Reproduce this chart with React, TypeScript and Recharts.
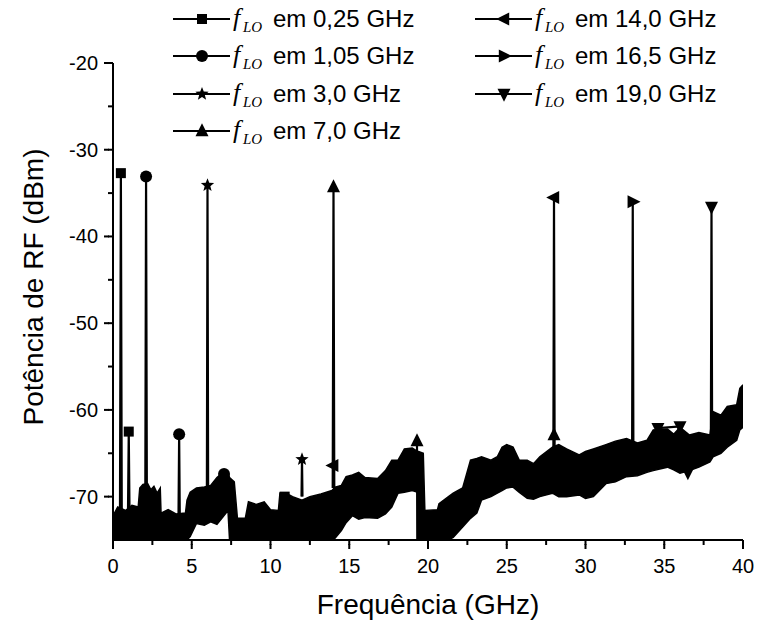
import React from 'react';
import { ComposedChart, Area, Line, XAxis, YAxis, Legend, Label } from 'recharts';

// ---- noise-floor envelope ----
const bandFreq = [0, 0.3, 0.8, 1.2, 1.6, 1.7, 1.9, 2.2, 2.4, 2.6, 2.8, 3.0, 3.05, 3.5, 4.0, 4.6, 4.7, 4.9, 5.3, 5.8, 6.2, 6.6, 7.0, 7.3, 7.4, 7.7, 7.9, 8.4, 8.6, 9.1, 9.6, 10.0, 10.5, 10.6, 11.2, 11.4, 12.0, 12.5, 13.2, 13.9, 14.1, 14.5, 14.8, 15.2, 15.6, 16.0, 16.8, 17.3, 17.7, 18.1, 18.5, 19.0, 19.35, 19.4, 19.7, 19.8, 20.6, 20.7, 21.3, 21.6, 22.2, 22.7, 23.1, 23.4, 24.0, 24.4, 24.7, 25.0, 25.4, 25.8, 26.3, 26.7, 27.1, 27.9, 28.3, 28.8, 29.6, 30.0, 30.5, 31.3, 31.9, 32.6, 33.3, 33.9, 34.3, 35.2, 35.6, 36.0, 36.6, 37.2, 37.9, 38.1, 38.6, 39.0, 39.6, 39.8, 40.0];
const bandHigh = [-72.2, -71.2, -71.6, -71.0, -71.2, -69.0, -68.6, -68.5, -69.2, -68.8, -69.6, -69.0, -71.9, -71.5, -72.0, -71.9, -70.4, -69.5, -69.0, -68.9, -68.7, -67.8, -67.2, -67.3, -67.8, -68.3, -72.5, -72.5, -70.6, -70.9, -70.6, -71.5, -71.6, -69.6, -69.8, -70.0, -70.4, -70.0, -69.7, -69.3, -68.9, -68.7, -67.7, -67.5, -67.2, -67.8, -67.9, -67.0, -65.8, -65.8, -64.5, -64.4, -64.8, -64.8, -65.0, -71.6, -71.5, -70.8, -70.0, -69.6, -69.0, -65.8, -65.6, -65.4, -65.8, -65.4, -64.3, -64.0, -64.3, -65.8, -65.8, -66.2, -65.4, -64.3, -64.0, -64.5, -65.2, -64.8, -64.5, -64.0, -63.6, -63.3, -63.8, -63.5, -62.3, -62.2, -62.8, -62.0, -62.9, -62.6, -62.9, -60.2, -60.6, -59.6, -59.4, -57.5, -57.1];
const bandLow = [-75, -75, -75, -75, -75, -75, -75, -75, -75, -75, -75, -75, -75, -75, -75, -75, -75, -74.6, -73.1, -73.3, -72.9, -73.2, -72.3, -71.6, -75, -75, -75, -75, -75, -75, -75, -75, -75, -75, -75, -75, -75, -75, -75, -75, -74.8, -73.9, -73.0, -72.2, -72.6, -72.4, -72.5, -72.0, -71.2, -69.6, -69.5, -69.3, -69.5, -75, -75, -75, -75, -75, -75, -74.7, -73.5, -72.5, -71.9, -70.4, -70.0, -69.6, -69.3, -69.0, -68.9, -69.5, -70.2, -70.3, -70.0, -69.6, -70.0, -70.0, -69.8, -70.2, -70.0, -68.5, -68.3, -67.7, -67.6, -67.2, -67.0, -66.6, -66.9, -67.3, -67.0, -66.6, -66.0, -65.4, -65.0, -64.3, -63.5, -62.3, -62.0];

// ---- series (LO frequency) spikes ----
const seriesLabels = ['0,25', '1,05', '3,0', '7,0', '14,0', '16,5', '19,0'];
const seriesShapes = ['square', 'circle', 'star', 'up', 'left', 'right', 'down'];

const spikes025 = [
  { f: 0.44, v: -74 }, { f: 0.5, v: -32.7, m: 1 }, { f: 0.56, v: -74 }, { f: 0.7, v: null },
  { f: 0.95, v: -72 }, { f: 1.0, v: -62.5, m: 1 }, { f: 1.05, v: -72 }, { f: 2.0, v: null },
  { f: 10.9, v: -70.0, m: 1 },
];
const spikes105 = [
  { f: 2.05, v: -70 }, { f: 2.1, v: -33.1, m: 1 }, { f: 2.15, v: -70 }, { f: 3.0, v: null },
  { f: 4.16, v: -72 }, { f: 4.2, v: -62.8, m: 1 }, { f: 4.24, v: -72 }, { f: 5.0, v: null },
  { f: 7.05, v: -67.4, m: 1 },
];
const spikes30 = [
  { f: 5.96, v: -69 }, { f: 6.0, v: -34.1, m: 1 }, { f: 6.04, v: -69 }, { f: 8.0, v: null },
  { f: 11.97, v: -70 }, { f: 12.0, v: -65.7, m: 1 }, { f: 12.03, v: -70 },
];
const spikes70 = [
  { f: 13.95, v: -69 }, { f: 14.0, v: -34.3, m: 1 }, { f: 14.05, v: -69 }, { f: 16.0, v: null },
  { f: 19.3, v: -63.6, m: 1 }, { f: 19.32, v: -75 }, { f: 22.0, v: null },
  { f: 28.0, v: -62.9, m: 1 },
];
const spikes140 = [
  { f: 13.98, v: -66.4, m: 1 }, { f: 14.0, v: -69 }, { f: 20.0, v: null },
  { f: 27.96, v: -65 }, { f: 28.0, v: -35.5, m: 1 }, { f: 28.04, v: -65 },
];
const spikes165 = [
  { f: 32.96, v: -64 }, { f: 33.0, v: -36.0, m: 1 }, { f: 33.04, v: -64 },
];
const spikes190 = [
  { f: 34.6, v: -62.1, m: 1 }, { f: 36.0, v: -61.9, m: 1 }, { f: 36.5, v: -67.2, m: 1 }, { f: 37.0, v: null },
  { f: 37.96, v: -63 }, { f: 38.0, v: -36.6, m: 1 }, { f: 38.04, v: -63 },
];
const seriesData = [spikes025, spikes105, spikes30, spikes70, spikes140, spikes165, spikes190];

const xTicks = [0, 2.5, 5, 7.5, 10, 12.5, 15, 17.5, 20, 22.5, 25, 27.5, 30, 32.5, 35, 37.5, 40];
const yTicks = [-70, -65, -60, -55, -50, -45, -40, -35, -30, -25, -20];

const bandData = bandFreq.map((f, i) => ({ f, range: [bandLow[i], bandHigh[i]] }));

const SANS = '"Liberation Sans", Arial, sans-serif';
const SERIF = '"Liberation Serif", "Times New Roman", serif';

function Marker({ shape, cx, cy }: { shape: string; cx: number; cy: number }) {
  const s = 13;
  switch (shape) {
    case 'square':
      return <rect x={cx - 5} y={cy - 5} width={10} height={10} fill="#000" />;
    case 'circle':
      return <circle cx={cx} cy={cy} r={6} fill="#000" />;
    case 'star': {
      const pts: string[] = [];
      for (let i = 0; i < 10; i++) {
        const r = i % 2 === 0 ? 7 : 3;
        const a = -Math.PI / 2 + (i * Math.PI) / 5;
        pts.push(`${cx + r * Math.cos(a)},${cy + r * Math.sin(a)}`);
      }
      return <polygon points={pts.join(' ')} fill="#000" />;
    }
    case 'up':
      return <polygon points={`${cx},${cy - s * 0.6} ${cx - s / 2},${cy + s * 0.4} ${cx + s / 2},${cy + s * 0.4}`} fill="#000" />;
    case 'down':
      return <polygon points={`${cx},${cy + s * 0.6} ${cx - s / 2},${cy - s * 0.4} ${cx + s / 2},${cy - s * 0.4}`} fill="#000" />;
    case 'left':
      return <polygon points={`${cx - s * 0.6},${cy} ${cx + s * 0.4},${cy - s / 2} ${cx + s * 0.4},${cy + s / 2}`} fill="#000" />;
    case 'right':
      return <polygon points={`${cx + s * 0.6},${cy} ${cx - s * 0.4},${cy - s / 2} ${cx - s * 0.4},${cy + s / 2}`} fill="#000" />;
    default:
      return null;
  }
}

const makeDot = (shape: string) => (props: any) => {
  const { cx, cy, payload, index } = props;
  if (!payload || !payload.m || cx == null || cy == null) return <g key={`d-${shape}-${index}`} />;
  return (
    <g key={`d-${shape}-${index}`}>
      <Marker shape={shape} cx={cx} cy={cy} />
    </g>
  );
};

// native tick line is 5px (minor); majors get an extra 4px piece
function XTick(props: any) {
  const { x, y, payload } = props;
  const v = payload.value;
  const major = v % 5 === 0;
  return (
    <g>
      {major && <rect x={x - 1} y={y - 1} width={2} height={5} fill="#000" stroke="none" />}
      {major && (
        <text x={x} y={y + 28} textAnchor="middle" fontFamily={SANS} fontSize={20} fill="#000" stroke="none">
          {v}
        </text>
      )}
    </g>
  );
}

function YTick(props: any) {
  const { x, y, payload } = props;
  const v = payload.value;
  const major = v % 10 === 0;
  return (
    <g>
      {major && <rect x={x - 4} y={y - 1} width={5} height={2} fill="#000" stroke="none" />}
      {major && (
        <text x={x - 10} y={y + 7} textAnchor="end" fontFamily={SANS} fontSize={20} fill="#000" stroke="none">
          {v}
        </text>
      )}
    </g>
  );
}

function LegendContent() {
  const rowsY = [19, 56, 94, 131];
  const entries = seriesLabels.map((lab, i) => {
    const col = i < 4 ? 0 : 1;
    const row = i < 4 ? i : i - 4;
    const x0 = col === 0 ? 173 : 475;
    return { lab, shape: seriesShapes[i], x0, y: rowsY[row] };
  });
  return (
    <svg width={757} height={150} style={{ position: 'absolute', left: 0, top: 0, overflow: 'visible' }}>
      {entries.map((e) => (
        <g key={e.lab}>
          <line x1={e.x0} y1={e.y} x2={e.x0 + 57} y2={e.y} stroke="#000" strokeWidth={2} />
          <Marker shape={e.shape} cx={e.x0 + 29} cy={e.y} />
          <text x={e.x0 + 60} y={e.y + 7} fontFamily={SERIF} fontStyle="italic" fontSize={26} fill="#000">
            f
          </text>
          <text x={e.x0 + 70} y={e.y + 13} fontFamily={SERIF} fontStyle="italic" fontSize={15} fill="#000">
            LO
          </text>
          <text x={e.x0 + 100} y={e.y + 8} fontFamily={SANS} fontSize={24} fill="#000">
            {`em ${e.lab} GHz`}
          </text>
        </g>
      ))}
    </svg>
  );
}

export default function App() {
  return (
    <div style={{ position: 'absolute', left: 0, top: 0, width: 757, height: 620, background: '#fff' }}>
      <ComposedChart width={757} height={620} data={bandData} margin={{ top: 63, right: 14, bottom: 0, left: 0 }}>
        <XAxis
          dataKey="f"
          type="number"
          domain={[0, 40]}
          ticks={xTicks}
          interval={0}
          tickSize={5}
          tickMargin={0}
          tickLine={{ stroke: '#000', strokeWidth: 2 }}
          axisLine={{ stroke: '#000', strokeWidth: 2 }}
          tick={<XTick />}
          height={80}
          allowDataOverflow
        >
          <Label
            content={() => (
              <text x={428} y={614} textAnchor="middle" fontFamily={SANS} fontSize={28} fill="#000">
                Frequência (GHz)
              </text>
            )}
          />
        </XAxis>
        <YAxis
          type="number"
          domain={[-75, -20]}
          ticks={yTicks}
          interval={0}
          tickSize={5}
          tickMargin={0}
          tickLine={{ stroke: '#000', strokeWidth: 2 }}
          axisLine={{ stroke: '#000', strokeWidth: 2 }}
          tick={<YTick />}
          width={113}
          allowDataOverflow
        >
          <Label
            content={() => (
              <text
                x={43}
                y={287}
                transform="rotate(-90 43 287)"
                textAnchor="middle"
                fontFamily={SANS}
                fontSize={28}
                fill="#000"
              >
                Potência de RF (dBm)
              </text>
            )}
          />
        </YAxis>
        <Legend
          content={<LegendContent />}
          wrapperStyle={{ position: 'absolute', left: 0, top: 0, width: 0, height: 0, overflow: 'visible' }}
        />
        <Area
          type="linear"
          dataKey="range"
          stroke="#000"
          strokeWidth={1.5}
          fill="#000"
          fillOpacity={1}
          isAnimationActive={false}
          dot={false}
          activeDot={false}
          legendType="none"
        />
        {seriesData.map((d, i) => (
          <Line
            key={seriesLabels[i]}
            data={d}
            dataKey="v"
            type="linear"
            stroke="#000"
            strokeWidth={2.2}
            dot={makeDot(seriesShapes[i])}
            activeDot={false}
            connectNulls={false}
            isAnimationActive={false}
            name={`fLO em ${seriesLabels[i]} GHz`}
          />
        ))}
      </ComposedChart>
    </div>
  );
}
